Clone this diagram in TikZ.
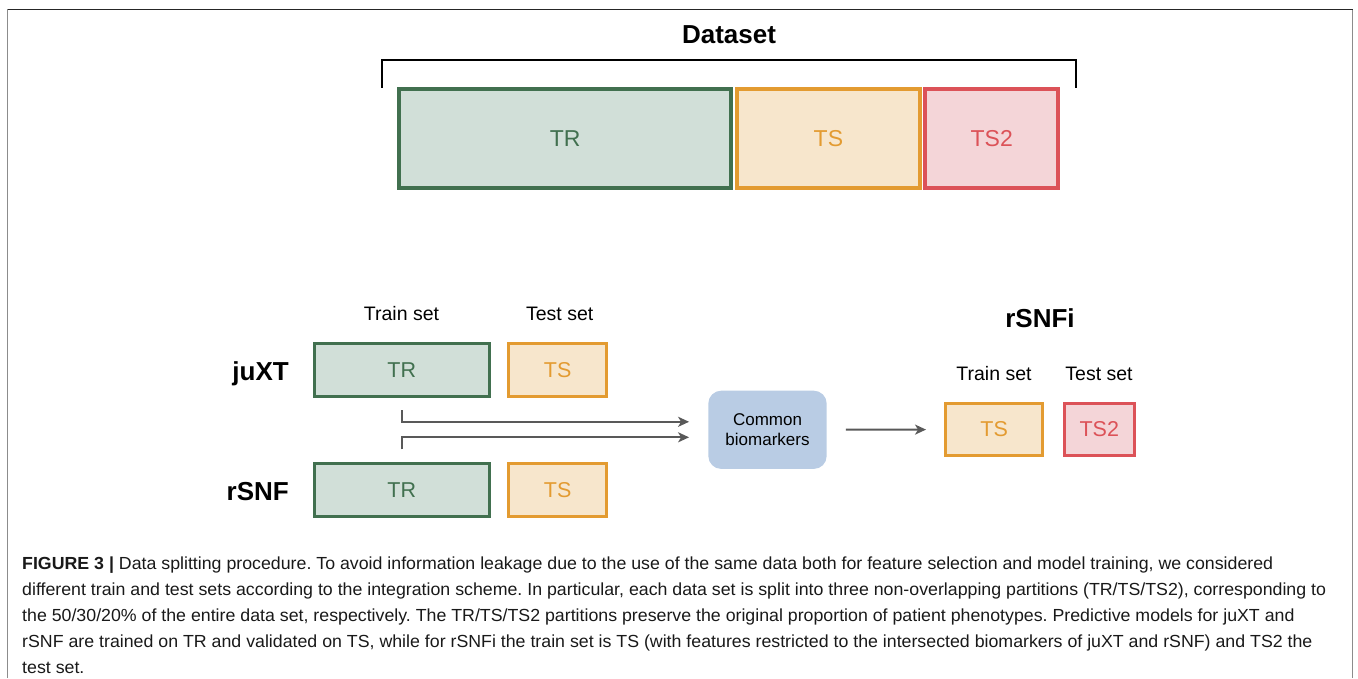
\documentclass[tikz,border=0pt]{standalone}
\usepackage{fontspec}
\setmainfont{Liberation Sans}
\newfontfamily\capfont[FakeStretch=1.015]{Liberation Sans}
\usetikzlibrary{positioning}
\usetikzlibrary{arrows.meta}

\definecolor{trline}{HTML}{41704F}
\definecolor{trfill}{HTML}{D1DFD8}
\definecolor{tsline}{HTML}{E39B31}
\definecolor{tsfill}{HTML}{F7E6CC}
\definecolor{tstwoline}{HTML}{DC5258}
\definecolor{tstwofill}{HTML}{F4D5D8}
\definecolor{biofill}{HTML}{B9CCE4}
\definecolor{arrowgray}{HTML}{595959}

\tikzset{
  fs/.style={font=\fontsize{#1}{#1}\selectfont},
  part/.style={rectangle, draw, inner sep=0pt},
  bigpart/.style={part, line width=4pt, minimum height=99.5pt, fs=23},
  smallpart/.style={part, line width=3pt, minimum height=53pt, fs=21.5},
  trpart/.style={draw=trline, fill=trfill, text=trline},
  tspart/.style={draw=tsline, fill=tsfill, text=tsline},
  tstwopart/.style={draw=tstwoline, fill=tstwofill, text=tstwoline},
  setlabel/.style={anchor=base, inner sep=0pt, fs=19.5},
  method/.style={inner sep=0pt, font=\bfseries\fontsize{26}{26}\selectfont},
  conn/.style={draw=arrowgray, line width=2pt, -{Stealth[length=11pt,width=10pt,inset=3pt]}},
}

\begin{document}
\begin{tikzpicture}[x=1pt, y=-1pt]
\useasboundingbox (0,0) rectangle (1358,678);

% frame
\draw[gray!90, line width=1.5pt] (7.7,678) -- (7.7,9.3);
\draw[gray!90, line width=1.5pt] (1352.7,678) -- (1352.7,9.3);
\draw[black!85, line width=1.5pt] (7.7,9.3) -- (1352.7,9.3);

% whole dataset split
\node[method, anchor=base] (dataset) at (729,43.3) {Dataset};
\draw[line width=2.7pt] (382,87.5) |- (1076,60) -- (1076,87.5);

\node[bigpart, trpart, minimum width=331.7pt] (trAll) at (565.2,138.25) {TR};
\node[bigpart, tspart, minimum width=182.7pt, right=2pt of trAll] (tsAll) {TS};
\node[bigpart, tstwopart, minimum width=132.7pt, right=1.6pt of tsAll] (tstwoAll) {TS2};

% juXT and rSNF
\node[setlabel] (trainLbl) at (401.5,320.7) {Train set};
\node[setlabel] (testLbl) at (559.7,320.7) {Test set};

\node[smallpart, trpart, minimum width=175pt] (trJuxt) at (401.7,369.7) {TR};
\node[smallpart, tspart, minimum width=97.7pt, right=16.6pt of trJuxt] (tsJuxt) {TS};
\node[method, anchor=base east] (juxt) at (289,380) {juXT};

\node[smallpart, trpart, minimum width=175pt] (trRsnf) at (401.7,489.7) {TR};
\node[smallpart, tspart, minimum width=97.7pt, right=16.6pt of trRsnf] (tsRsnf) {TS};
\node[method, anchor=base east] (rsnf) at (289,500.5) {rSNF};

% intersection
\node[fill=biofill, rounded corners=13pt, minimum width=118.4pt, minimum height=78.3pt,
      align=center, font=\fontsize{17}{20}\selectfont] (common) at (767.5,429.8) {Common\\biomarkers};

\draw[conn, shorten <=12.3pt, shorten >=19pt] (trJuxt.south) |- ([yshift=8pt]common.west);
\draw[conn, shorten <=12.4pt, shorten >=19pt] (trRsnf.north) |- ([yshift=-7.5pt]common.west);

% rSNFi
\node[method, anchor=base] (rsnfi) at (1040,327) {rSNFi};
\node[setlabel] (trainLblI) at (994,380.7) {Train set};
\node[setlabel] (testLblI) at (1099,380.7) {Test set};

\node[smallpart, tspart, minimum width=97.3pt, minimum height=52.6pt] (tsRsnfi) at (994.2,429.5) {TS};
\node[smallpart, tstwopart, minimum width=70pt, minimum height=52.6pt, right=18.4pt of tsRsnfi] (tstwoRsnfi) {TS2};

\draw[conn, shorten <=19pt, shorten >=18pt] (common) -- (tsRsnfi);

% caption
\node[anchor=north west, inner sep=0pt, align=left, text=black!90,
      font=\capfont\fontsize{17.5}{26}\selectfont\frenchspacing] (caption) at (22,557) {%
\textbf{FIGURE 3 |} Data splitting procedure. To avoid information leakage due to the use of the same data both for feature selection and model training, we considered\\
different train and test sets according to the integration scheme. In particular, each data set is split into three non-overlapping partitions (TR/TS/TS2), corresponding to\\
the 50/30/20\% of the entire data set, respectively. The TR/TS/TS2 partitions preserve the original proportion of patient phenotypes. Predictive models for juXT and\\
rSNF are trained on TR and validated on TS, while for rSNFi the train set is TS (with features restricted to the intersected biomarkers of juXT and rSNF) and TS2 the\\
test set.};

\end{tikzpicture}
\end{document}
